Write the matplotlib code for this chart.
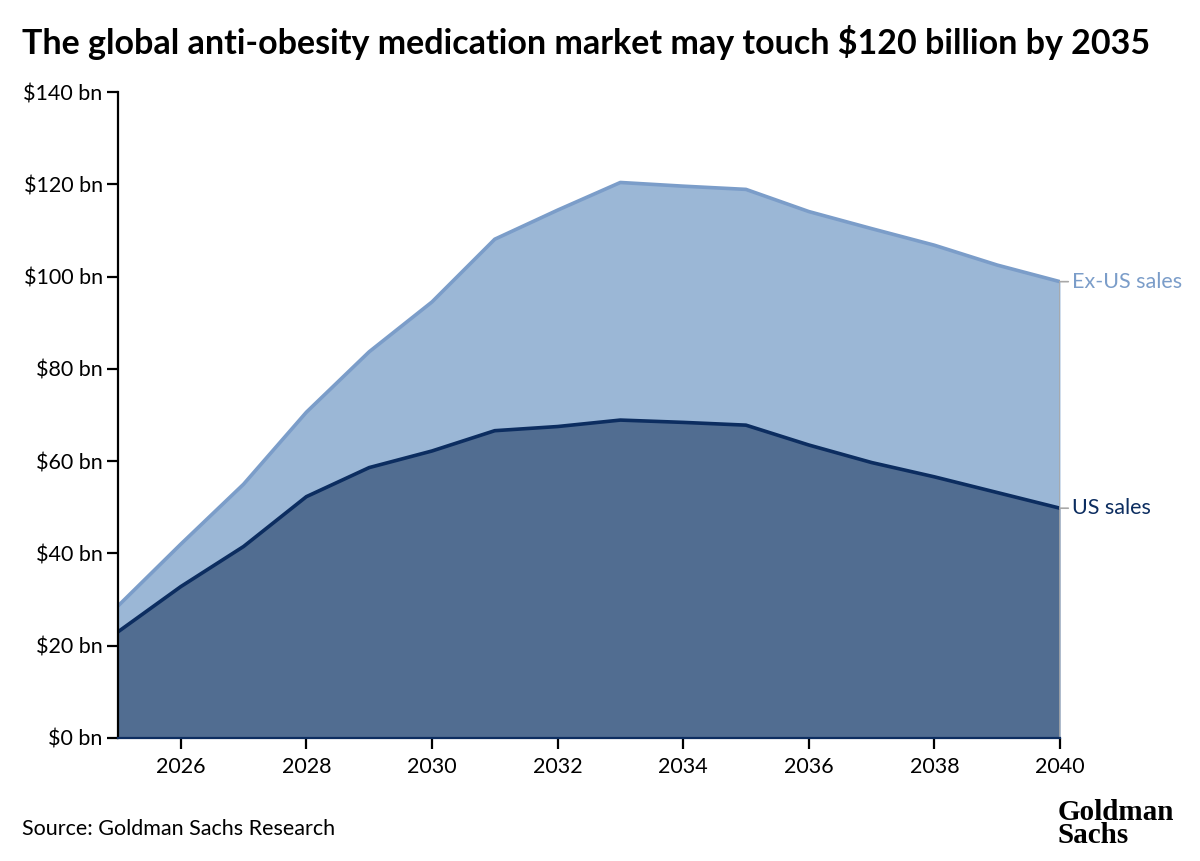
import matplotlib
matplotlib.use('Agg')
import matplotlib.pyplot as plt

years = list(range(2025, 2041))
# US sales, $bn
us_sales = [23.0, 32.8, 41.5, 52.3, 58.6, 62.2, 66.6, 67.5, 68.9, 68.4, 67.8, 63.5, 59.7, 56.6, 53.2, 49.8]
# total sales (US + ex-US), $bn
total_sales = [28.6, 42.0, 55.0, 70.6, 83.7, 94.5, 108.1, 114.4, 120.4, 119.6, 118.9, 114.1, 110.4, 106.8, 102.5, 98.9]
y_ticks = [0, 20, 40, 60, 80, 100, 120, 140]
x_ticks = [2026, 2028, 2030, 2032, 2034, 2036, 2038, 2040]

US_FILL = '#516d91'
US_LINE = '#0c2d60'
EX_FILL = '#9bb7d6'
EX_LINE = '#7b9dc9'

plt.rcParams['font.family'] = ['Lato', 'DejaVu Sans']

fig = plt.figure(figsize=(12, 8.61), dpi=100)
ax = fig.add_axes([0.0983, 0.1429, 0.7850, 0.7502])

# stacked areas
ax.fill_between(years, us_sales, total_sales, color=EX_FILL, lw=0)
ax.fill_between(years, 0, us_sales, color=US_FILL, lw=0)
ax.plot(years, total_sales, color=EX_LINE, lw=2.6, solid_joinstyle='round')
ax.plot(years, us_sales, color=US_LINE, lw=2.6, solid_joinstyle='round')
ax.plot([2040, 2040], [0, total_sales[-1]], color='#a8a8a8', lw=1.2)

ax.set_xlim(2025, 2040)
ax.set_ylim(0, 140)
ax.set_yticks(y_ticks)
ax.set_yticklabels([f'${v} bn' for v in y_ticks])
ax.set_xticks(x_ticks)
ax.set_xticklabels([str(v) for v in x_ticks])
ax.tick_params(axis='both', labelsize=15.5, length=8, width=1.6, colors='black')
ax.tick_params(axis='y', pad=3)
ax.tick_params(axis='x', pad=6)

for side in ['top', 'right']:
    ax.spines[side].set_visible(False)
ax.spines['left'].set_linewidth(1.6)
ax.spines['bottom'].set_linewidth(1.6)
ax.spines['bottom'].set_color(US_LINE)

# end labels with short grey connectors
for val, name, col in [(total_sales[-1], 'Ex-US sales', EX_LINE), (us_sales[-1], 'US sales', US_LINE)]:
    ax.annotate('', xy=(2040, val), xytext=(6, 0), textcoords='offset points', annotation_clip=False,
                arrowprops=dict(arrowstyle='-', color='#a8a8a8', lw=1.2, shrinkA=0, shrinkB=0))
    ax.annotate(name, xy=(2040, val), xytext=(8.5, 0), textcoords='offset points',
                va='center', ha='left', fontsize=15.5, color=col, annotation_clip=False)

fig.text(0.018, 0.951, 'The global anti-obesity medication market may touch $120 billion by 2035',
         fontsize=24.5, fontweight='bold', va='center', ha='left')
fig.text(0.018, 0.037, 'Source: Goldman Sachs Research', fontsize=15.5, va='center', ha='left')
fig.text(0.881, 0.043, 'Goldman\nSachs', fontsize=21, fontweight='bold', family='Liberation Serif',
         va='center', ha='left', linespacing=0.78)

fig.savefig('out.png', dpi=100)
